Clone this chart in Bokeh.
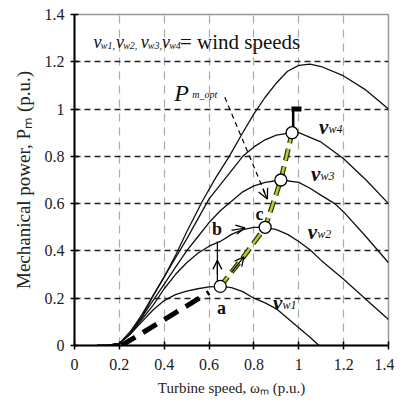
from bokeh.plotting import figure
from bokeh.models import FixedTicker, Range1d, Arrow, OpenHead
from bokeh.core.properties import value
from bokeh.embed import file_html
from bokeh.resources import INLINE

# ---------------- data ----------------
x_ticks = [0, 0.2, 0.4, 0.6, 0.8, 1.0, 1.2, 1.4]
x_tick_labels = ["0", "0.2", "0.4", "0.6", "0.8", "1", "1.2", "1.4"]
y_ticks = [0, 0.2, 0.4, 0.6, 0.8, 1.0, 1.2, 1.4]
y_tick_labels = ["0", "0.2", "0.4", "0.6", "0.8", "1", "1.2", "1.4"]

vw1_x = [0.10, 0.15, 0.20, 0.25, 0.30, 0.35, 0.40, 0.45, 0.50, 0.55, 0.60, 0.65, 0.70, 0.75, 0.80, 0.85, 0.90, 0.95, 1.00, 1.05, 1.09]
vw1_y = [0.0, 0.002, 0.008, 0.05, 0.10, 0.15, 0.19, 0.215, 0.23, 0.24, 0.248, 0.25, 0.245, 0.228, 0.20, 0.18, 0.155, 0.115, 0.075, 0.035, 0.0]

vw2_x = [0.10, 0.15, 0.20, 0.25, 0.30, 0.35, 0.40, 0.45, 0.50, 0.55, 0.60, 0.65, 0.70, 0.75, 0.80, 0.85, 0.90, 0.95, 1.00, 1.05, 1.10, 1.20, 1.30, 1.40]
vw2_y = [0.0, 0.002, 0.008, 0.05, 0.11, 0.17, 0.24, 0.30, 0.35, 0.39, 0.42, 0.44, 0.47, 0.49, 0.50, 0.50, 0.49, 0.47, 0.44, 0.405, 0.36, 0.28, 0.195, 0.11]

vw3_x = [0.10, 0.15, 0.20, 0.25, 0.30, 0.35, 0.40, 0.45, 0.50, 0.55, 0.60, 0.65, 0.70, 0.75, 0.80, 0.85, 0.92, 1.00, 1.05, 1.10, 1.16, 1.20, 1.30, 1.40]
vw3_y = [0.0, 0.002, 0.008, 0.05, 0.12, 0.19, 0.26, 0.33, 0.40, 0.46, 0.52, 0.57, 0.61, 0.65, 0.675, 0.69, 0.70, 0.69, 0.665, 0.635, 0.60, 0.565, 0.46, 0.35]

vw4_x = [0.10, 0.15, 0.20, 0.25, 0.30, 0.35, 0.40, 0.45, 0.50, 0.60, 0.70, 0.75, 0.80, 0.85, 0.90, 0.97, 1.00, 1.10, 1.20, 1.30, 1.40]
vw4_y = [0.0, 0.002, 0.008, 0.06, 0.13, 0.21, 0.29, 0.37, 0.45, 0.62, 0.74, 0.80, 0.84, 0.87, 0.89, 0.90, 0.90, 0.86, 0.79, 0.70, 0.60]

vw5_x = [0.10, 0.15, 0.20, 0.25, 0.30, 0.35, 0.40, 0.45, 0.50, 0.57, 0.63, 0.69, 0.75, 0.80, 0.85, 0.90, 0.95, 1.00, 1.05, 1.10, 1.20, 1.30, 1.40]
vw5_y = [0.0, 0.002, 0.008, 0.06, 0.12, 0.21, 0.29, 0.38, 0.48, 0.61, 0.71, 0.80, 0.90, 0.98, 1.05, 1.11, 1.16, 1.185, 1.19, 1.18, 1.14, 1.08, 1.00]

# operating points (peaks of vw1..vw4)
op_x = [0.65, 0.85, 0.92, 0.97]
op_y = [0.25, 0.50, 0.70, 0.90]

# optimal-power trajectory
opt_x = [0.65, 0.75, 0.85, 0.92, 0.97]
opt_y = [0.25, 0.37, 0.50, 0.70, 0.90]

# start-up (thick dashed) path
start_x = [0.21, 0.60]
start_y = [0.0, 0.225]

# power limit marker
lim_v_x = [0.975, 0.975]
lim_v_y = [0.915, 1.0]
lim_h_x = [0.967, 1.012]
lim_h_y = [1.0, 1.0]

# a -> b vertical step
ab_x = [0.637, 0.637]
ab_y = [0.26, 0.44]

# P_m_opt pointer
ptr_x = [0.67, 0.86]
ptr_y = [1.05, 0.62]

SERIF = "Liberation Serif"

p = figure(width=394, height=398, output_backend="svg", toolbar_location=None,
           x_range=Range1d(0, 1.4), y_range=Range1d(0, 1.4),
           min_border_left=74, min_border_right=6, min_border_top=14, min_border_bottom=52)
p.background_fill_color = "white"
p.border_fill_color = "white"
p.outline_line_color = "#999999"
p.outline_line_width = 1.5

# axes
for ax, ticks, labels in ((p.xaxis, x_ticks, x_tick_labels), (p.yaxis, y_ticks, y_tick_labels)):
    ax.ticker = FixedTicker(ticks=ticks)
    ax.major_label_overrides = {t: l for t, l in zip(ticks, labels)}
    ax.major_label_text_font = SERIF
    ax.major_label_text_font_size = "16px"
    ax.major_label_text_color = "#222222"
    ax.axis_label_text_font = SERIF
    ax.axis_label_text_font_style = "normal"
    ax.axis_label_text_color = "#222222"
    ax.axis_line_color = "black"
    ax.axis_line_width = 2
    ax.major_tick_line_color = "black"
    ax.major_tick_line_width = 1.5
    ax.major_tick_in = 4
    ax.major_tick_out = 4
    ax.minor_tick_line_color = None

p.xaxis.axis_label = "Turbine speed, ωₘ (p.u.)"
p.yaxis.axis_label = "Mechanical power, Pₘ (p.u.)"
p.xaxis.axis_label_text_font_size = "15px"
p.yaxis.axis_label_text_font_size = "19px"
p.xaxis.major_label_standoff = 9
p.yaxis.major_label_standoff = 6
p.xaxis.axis_label_standoff = 7
p.yaxis.axis_label_standoff = 8

# grids
p.ygrid.ticker = FixedTicker(ticks=y_ticks[1:-1])
p.xgrid.ticker = FixedTicker(ticks=x_ticks[1:-1])
p.ygrid.grid_line_color = "#222222"
p.ygrid.grid_line_width = 1.6
p.ygrid.grid_line_dash = "6 4"
p.xgrid.grid_line_color = "#aaaaaa"
p.xgrid.grid_line_width = 1.2
p.xgrid.grid_line_dash = "8 6"

# curves
for xs, ys in ((vw1_x, vw1_y), (vw2_x, vw2_y), (vw3_x, vw3_y), (vw4_x, vw4_y), (vw5_x, vw5_y)):
    p.line(xs, ys, line_color="#111111", line_width=1.3)

# start-up thick dashed
p.line(start_x, start_y, line_color="black", line_width=5, line_dash="16 9")

# optimal trajectory: dark edged yellow-green dashes
p.line(opt_x, opt_y, line_color="#333300", line_width=5, line_dash="12 6")
p.line(opt_x, opt_y, line_color="#b8cc3a", line_width=2.5, line_dash="12 6")

# power limit
p.line(lim_v_x, lim_v_y, line_color="black", line_width=2.5)
p.line(lim_h_x, lim_h_y, line_color="black", line_width=5)

# a -> b step
p.line(ab_x, ab_y, line_color="black", line_width=1.2)

# pointer
p.line(ptr_x, ptr_y, line_color="black", line_width=1.2, line_dash="5 4")

# arrowheads
p.add_layout(Arrow(end=OpenHead(size=9, line_width=1.3), x_start=0.637, y_start=0.30, x_end=0.637, y_end=0.36,
                   line_color="black", line_width=1.2))
p.add_layout(Arrow(end=OpenHead(size=9, line_width=1.3), x_start=0.70, y_start=0.487, x_end=0.76, y_end=0.497,
                   line_color="black", line_width=1.2))
p.add_layout(Arrow(end=OpenHead(size=9, line_width=1.3), x_start=0.70, y_start=0.31, x_end=0.755, y_end=0.375,
                   line_color="black", line_width=1.2))
p.add_layout(Arrow(end=OpenHead(size=10, line_width=1.3), x_start=0.84, y_start=0.66, x_end=0.86, y_end=0.62,
                   line_color="black", line_width=1.2))

# operating points
p.scatter(op_x, op_y, size=12, marker="circle", fill_color="white", line_color="black", line_width=1.3)

# point labels
p.text([0.655], [0.20], text=["a"], text_font=value(SERIF), text_font_style="bold", text_font_size="18px",
       text_align="center", text_baseline="top", text_color="#111111")
p.text([0.635], [0.45], text=["b"], text_font=value(SERIF), text_font_style="bold", text_font_size="18px",
       text_align="center", text_baseline="bottom", text_color="#111111")
p.text([0.825], [0.515], text=["c"], text_font=value(SERIF), text_font_style="bold", text_font_size="18px",
       text_align="center", text_baseline="bottom", text_color="#111111")

# P_m_opt label
p.text([0.445], [1.07], text=["P"], text_font=value(SERIF), text_font_style="italic", text_font_size="24px",
       text_align="left", text_baseline="alphabetic", text_color="#111111")
p.text([0.525], [1.062], text=["m_opt"], text_font=value(SERIF), text_font_style="italic", text_font_size="10px",
       text_align="left", text_baseline="alphabetic", text_color="#111111")

# curve labels (v with subscript)
def vlabel(x, y, sub):
    p.text([x], [y], text=["v"], text_font=value(SERIF), text_font_style="bold italic", text_font_size="21px",
           text_align="left", text_baseline="alphabetic", text_color="#111111")
    p.text([x + 0.042], [y - 0.01], text=[sub], text_font=value(SERIF), text_font_style="italic",
           text_font_size="12px", text_align="left", text_baseline="alphabetic", text_color="#111111")

vlabel(0.885, 0.18, "w1")
vlabel(1.04, 0.48, "w2")
vlabel(1.055, 0.725, "w3")
vlabel(1.09, 0.925, "w4")

# top legend text: v_w1, v_w2, v_w3, v_w4 = wind speeds
top_y = 1.285
for vx, sub in ((0.085, "w1,"), (0.185, "w2,"), (0.295, "w3,"), (0.39, "w4")):
    p.text([vx], [top_y], text=["v"], text_font=value(SERIF), text_font_style="italic", text_font_size="18px",
           text_align="left", text_baseline="alphabetic", text_color="#111111")
    p.text([vx + 0.032], [top_y - 0.015], text=[sub], text_font=value(SERIF), text_font_style="italic",
           text_font_size="10px", text_align="left", text_baseline="alphabetic", text_color="#111111")
p.text([0.47], [top_y], text=["= wind speeds"], text_font=value(SERIF), text_font_size="21px",
       text_align="left", text_baseline="alphabetic", text_color="#111111")

open("out.html", "w").write(file_html(p, INLINE))
